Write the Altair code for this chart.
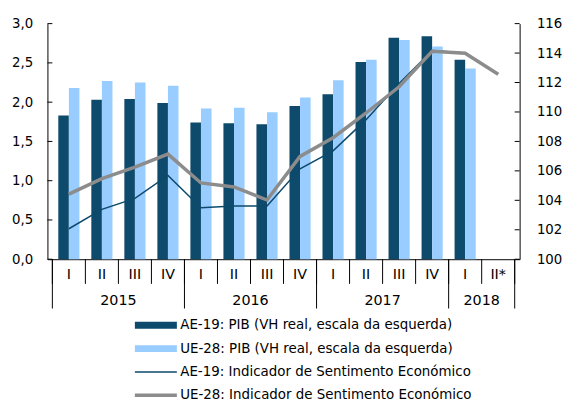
import altair as alt
import pandas as pd

quarters = ["I", "II", "III", "IV", "I", "II", "III", "IV", "I", "II", "III", "IV", "I", "II*"]
years = ["2015", "2016", "2017", "2018"]
year_counts = [4, 4, 4, 2]

pib_ae = [1.83, 2.03, 2.04, 1.99, 1.74, 1.73, 1.72, 1.95, 2.10, 2.51, 2.82, 2.84, 2.54, None]
pib_ue = [2.18, 2.27, 2.25, 2.21, 1.92, 1.93, 1.87, 2.06, 2.28, 2.54, 2.79, 2.71, 2.43, None]
ise_ae = [102.07, 103.39, 104.13, 105.69, 103.50, 103.61, 103.61, 106.14, 107.36, 109.48, 111.94, 114.17, 114.00, 112.58]
ise_ue = [104.42, 105.47, 106.25, 107.14, 105.18, 104.91, 104.02, 106.98, 108.25, 109.93, 111.71, 114.12, 113.99, 112.56]

left_ticks = [0.0, 0.5, 1.0, 1.5, 2.0, 2.5, 3.0]
right_ticks = [100, 102, 104, 106, 108, 110, 112, 114, 116]

S_PIB_AE = "AE-19: PIB (VH real, escala da esquerda)"
S_PIB_UE = "UE-28: PIB (VH real, escala da esquerda)"
S_ISE_AE = "AE-19: Indicador de Sentimento Económico"
S_ISE_UE = "UE-28: Indicador de Sentimento Económico"
series_names = [S_PIB_AE, S_PIB_UE, S_ISE_AE, S_ISE_UE]
series_colors = ["#0D4A6B", "#99CCFF", "#0D4A6B", "#8C8C8C"]

W, H = 479, 239
FONT = "DejaVu Sans"

rows = []
for i in range(len(quarters)):
    for s, v in ((S_PIB_AE, pib_ae[i]), (S_PIB_UE, pib_ue[i])):
        if v is not None:
            rows.append({"idx": i, "series": s, "value": v})
df_bars = pd.DataFrame(rows)

rows = []
for i in range(len(quarters)):
    rows.append({"idx": i, "series": S_ISE_AE, "value": ise_ae[i]})
    rows.append({"idx": i, "series": S_ISE_UE, "value": ise_ue[i]})
df_lines = pd.DataFrame(rows)

df_q = pd.DataFrame({"idx": list(range(len(quarters))), "q": quarters})
starts = [sum(year_counts[:k]) for k in range(len(years))]
df_y = pd.DataFrame({"year": years, "start": starts, "count": year_counts})
df_qsep = pd.DataFrame({"b": list(range(len(quarters) + 1))})
df_ysep = pd.DataFrame({"b": starts + [len(quarters)]})
df_lt = pd.DataFrame({"v": left_ticks})
df_rt = pd.DataFrame({"v": right_ticks})
df_leg = pd.DataFrame({"series": series_names})

xscale = alt.Scale(domain=[0, len(quarters)], nice=False, zero=False)
cscale = alt.Scale(domain=series_names, range=series_colors)
lscale = alt.Scale(domain=[0, 3], nice=False, zero=True)
rscale = alt.Scale(domain=[100, 116], nice=False, zero=False)
legscale = alt.Scale(type="point", domain=series_names, range=[306, 377], padding=0)

left_axis = alt.Axis(orient="left", values=left_ticks, grid=False, ticks=False, tickSize=0,
                     domain=True, domainColor="#000000", labelPadding=15, title=None,
                     labelExpr="replace(format(datum.value, '.1f'), '.', ',')",
                     labelFont=FONT, labelFontSize=13.5, labelColor="#000000")
right_axis = alt.Axis(orient="right", values=right_ticks, grid=False, ticks=False, tickSize=0,
                      domain=True, domainColor="#000000", labelPadding=17, title=None, format="d",
                      labelFont=FONT, labelFontSize=13.5, labelColor="#000000")

bars = alt.Chart(df_bars).transform_calculate(
    x0="datum.idx + (datum.series == '" + S_PIB_AE + "' ? 0.18 : 0.5)",
    x1="datum.idx + (datum.series == '" + S_PIB_AE + "' ? 0.5 : 0.82)",
    base="0",
).mark_bar(orient="vertical").encode(
    x=alt.X("x0:Q", scale=xscale,
            axis=alt.Axis(domain=True, domainColor="#000000", labels=False, ticks=False,
                          grid=False, title=None)),
    x2="x1:Q",
    y=alt.Y("value:Q", scale=lscale, axis=left_axis),
    y2="base:Q",
    color=alt.Color("series:N", scale=cscale, legend=None),
)

lt = alt.Chart(df_lt).mark_rule(color="#000000", strokeWidth=1).encode(
    y=alt.Y("v:Q", scale=lscale, axis=left_axis),
    x=alt.value(0), x2=alt.value(5),
)

qsep = alt.Chart(df_qsep).mark_rule(color="#000000", strokeWidth=1).encode(
    x=alt.X("b:Q", scale=xscale), y=alt.value(H), y2=alt.value(H + 25),
)
ysep = alt.Chart(df_ysep).mark_rule(color="#000000", strokeWidth=1).encode(
    x=alt.X("b:Q", scale=xscale), y=alt.value(H), y2=alt.value(H + 50),
)
qtext = alt.Chart(df_q).transform_calculate(xc="datum.idx + 0.5").mark_text(
    font=FONT, fontSize=14.5, color="#000000", baseline="middle", align="center"
).encode(x=alt.X("xc:Q", scale=xscale), y=alt.value(H + 16), text="q:N")
ytext = alt.Chart(df_y).transform_calculate(xc="datum.start + datum.count / 2").mark_text(
    font=FONT, fontSize=14.5, color="#000000", baseline="middle", align="center"
).encode(x=alt.X("xc:Q", scale=xscale), y=alt.value(H + 42), text="year:N")

left = alt.layer(bars, lt, qsep, ysep, qtext, ytext)

line_ae = alt.Chart(df_lines).transform_filter(
    alt.datum.series == S_ISE_AE
).transform_calculate(xc="datum.idx + 0.5").mark_line(strokeWidth=1.5).encode(
    x=alt.X("xc:Q", scale=xscale),
    y=alt.Y("value:Q", scale=rscale, axis=right_axis),
    color=alt.Color("series:N", scale=cscale, legend=None),
)
line_ue = alt.Chart(df_lines).transform_filter(
    alt.datum.series == S_ISE_UE
).transform_calculate(xc="datum.idx + 0.5").mark_line(strokeWidth=3.5).encode(
    x=alt.X("xc:Q", scale=xscale),
    y=alt.Y("value:Q", scale=rscale, axis=right_axis),
    color=alt.Color("series:N", scale=cscale, legend=None),
)
rt = alt.Chart(df_rt).mark_rule(color="#000000", strokeWidth=1).encode(
    y=alt.Y("v:Q", scale=rscale, axis=right_axis),
    x=alt.value(W - 5), x2=alt.value(W),
)
right = alt.layer(line_ae, line_ue, rt)


# legend, drawn as its own layer
def leg_symbol(names, width):
    return alt.Chart(df_leg).transform_filter(
        alt.FieldOneOfPredicate(field="series", oneOf=names)
    ).mark_rule(strokeCap="butt", strokeWidth=width).encode(
        y=alt.Y("series:N", scale=legscale, axis=None),
        x=alt.value(88.7), x2=alt.value(131.3),
        color=alt.Color("series:N", scale=cscale, legend=None),
    )


leg_txt = alt.Chart(df_leg).mark_text(
    font=FONT, fontSize=13.6, color="#000000", align="left", baseline="middle"
).encode(
    y=alt.Y("series:N", scale=legscale, axis=None),
    x=alt.value(134.7),
    text="series:N",
)
leg = alt.layer(
    leg_symbol([S_PIB_AE, S_PIB_UE], 7),
    leg_symbol([S_ISE_AE], 1.5),
    leg_symbol([S_ISE_UE], 3.5),
    leg_txt,
)

chart = alt.layer(left, right, leg).resolve_scale(y="independent").properties(
    width=W, height=H,
    autosize=alt.AutoSizeParams(type="none"),
    padding={"left": 40, "top": 13, "right": 44, "bottom": 143},
    background="#ffffff",
).configure_view(stroke=None)

chart.save("out.html", embed_options={"renderer": "svg", "actions": False})
